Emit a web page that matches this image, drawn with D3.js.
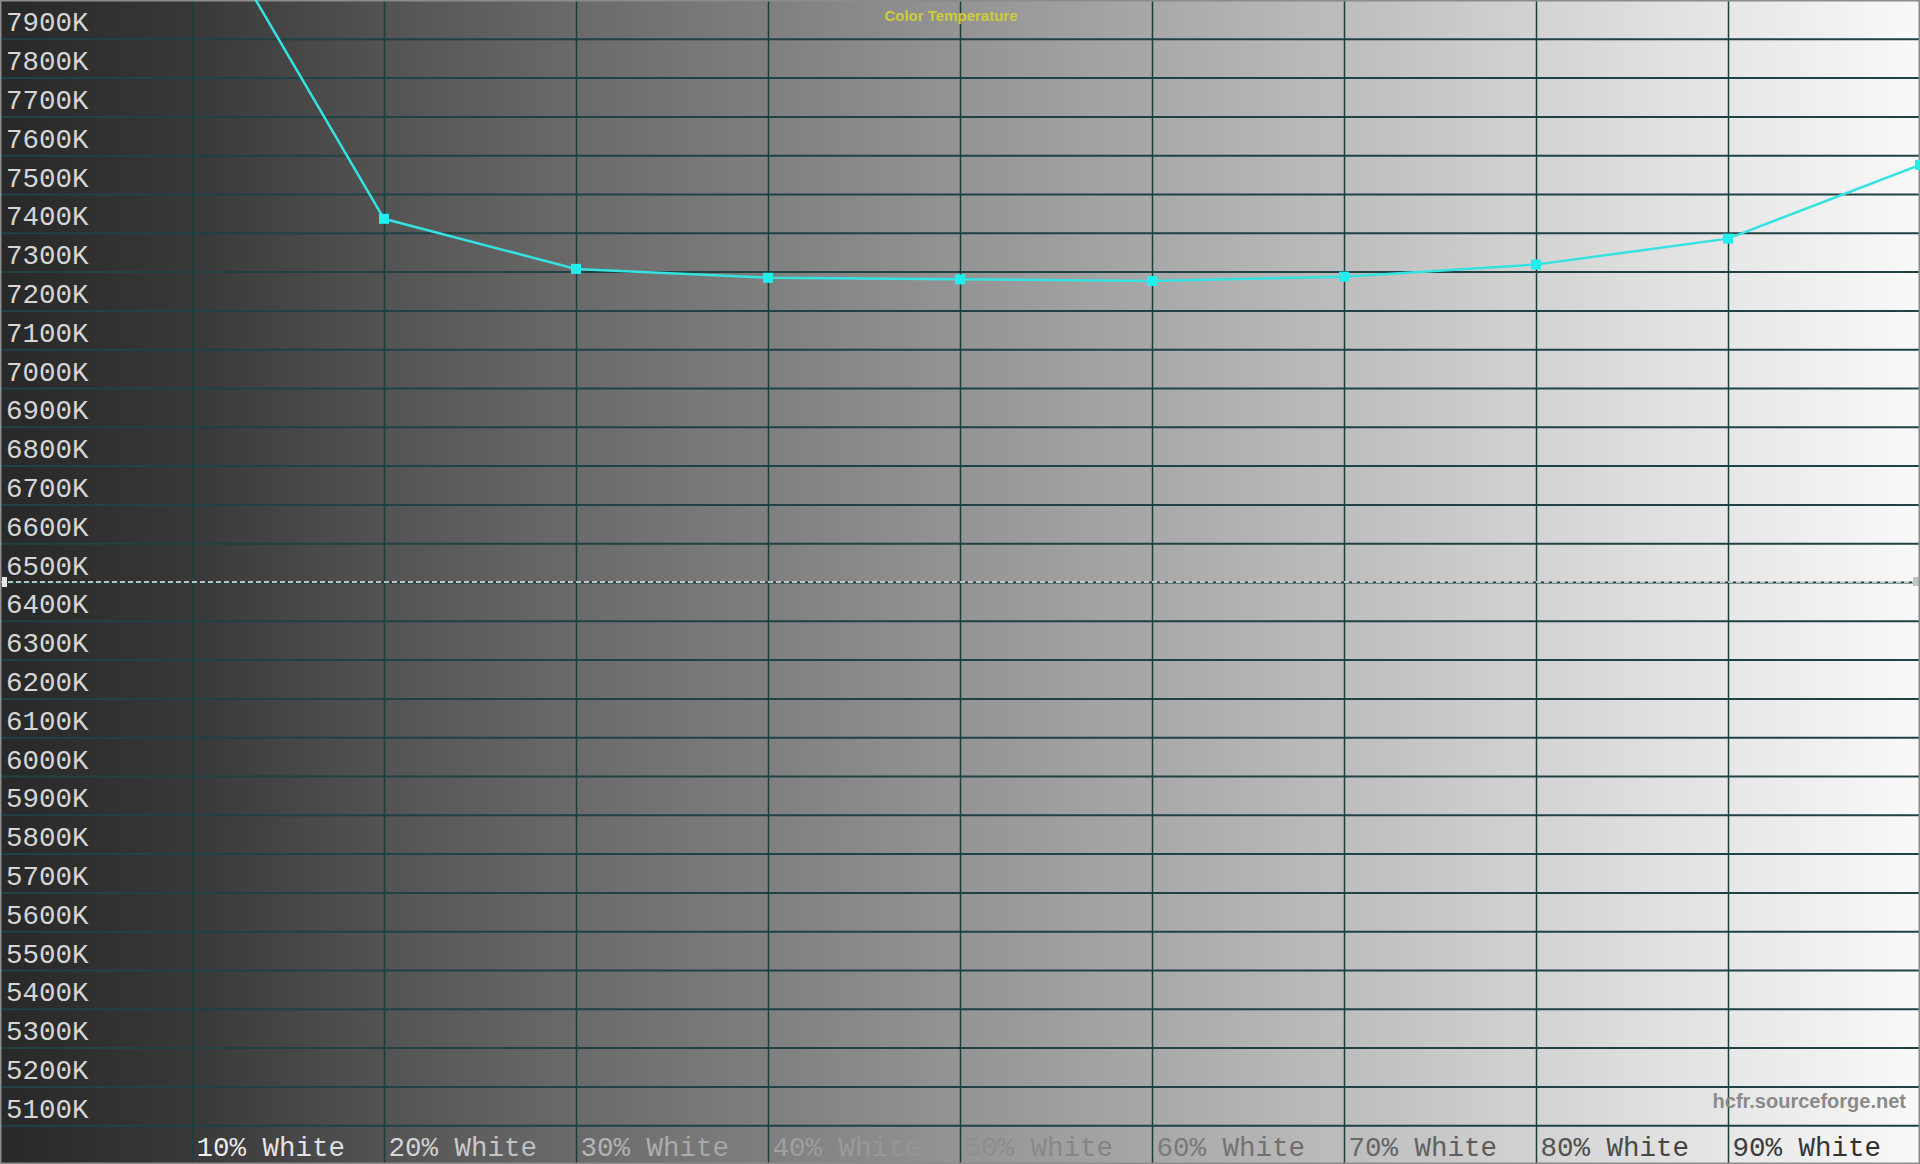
<!DOCTYPE html>
<html>
<head>
<meta charset="utf-8">
<script src="https://cdn.jsdelivr.net/npm/d3@7"></script>
<style>
  html, body { margin: 0; padding: 0; background: #2a2a2a; overflow: hidden; }
  svg { display: block; }
</style>
</head>
<body>
<svg id="chart"></svg>
<script>
'use strict';

// measured grey levels (percent of white) and colour temperature in kelvin
const levels = [10, 20, 30, 40, 50, 60, 70, 80, 90, 100];
const colorTemps = [8280, 7436, 7307, 7284, 7280, 7276, 7287, 7318, 7385, 7575];

const xTickLevels = [10, 20, 30, 40, 50, 60, 70, 80, 90];
const xLabels = ['10% White', '20% White', '30% White', '40% White', '50% White',
                 '60% White', '70% White', '80% White', '90% White'];
const yTicks = d3.range(5100, 8000, 100);
const referenceTemp = 6500;
const chartTitle = 'Color Temperature';
const watermark = 'hcfr.sourceforge.net';

const width = 1920, height = 1164;

const svg = d3.select('#chart')
    .attr('width', width)
    .attr('height', height);

const x = d3.scaleLinear().domain([0, 100]).range([0, width]);
const y = d3.scaleLinear().domain([5000, 8000]).range([height, 0]);

const defs = svg.append('defs');

// background: dark grey on the left to near white on the right
const bg = defs.append('linearGradient')
    .attr('id', 'bg')
    .attr('gradientUnits', 'userSpaceOnUse')
    .attr('x1', 0).attr('x2', width).attr('y1', 0).attr('y2', 0);
[[0, '#282828'], [0.1, '#383838'], [0.2, '#535353'], [0.3, '#6a6a6a'], [0.4, '#7f7f7f'],
 [0.5, '#949494'], [0.6, '#a8a8a8'], [0.7, '#bdbdbd'], [0.8, '#d3d3d3'], [0.9, '#e7e7e7'],
 [1, '#f9f9f9']].forEach(s => {
    bg.append('stop').attr('offset', s[0]).attr('stop-color', s[1]);
});

// x labels go from light to dark
const lab = defs.append('linearGradient')
    .attr('id', 'lab')
    .attr('gradientUnits', 'userSpaceOnUse')
    .attr('x1', 190).attr('x2', width).attr('y1', 0).attr('y2', 0);
[[0, '#f0f0f0'], [0.12, '#d6d6d6'], [0.24, '#b2b2b2'], [0.36, '#9c9c9c'], [0.48, '#8c8c8c'],
 [0.6, '#747474'], [0.72, '#606060'], [0.84, '#484848'], [1, '#2a2a2a']].forEach(s => {
    lab.append('stop').attr('offset', s[0]).attr('stop-color', s[1]);
});

svg.append('rect')
    .attr('width', width)
    .attr('height', height)
    .attr('fill', 'url(#bg)');

// horizontal grid + kelvin labels
const yAxis = svg.append('g')
    .attr('class', 'y-axis')
    .call(d3.axisRight(y)
        .tickValues(yTicks)
        .tickSize(width)
        .tickFormat(d => d + 'K'));

yAxis.select('.domain').remove();
yAxis.selectAll('.tick line')
    .attr('stroke', '#1f4242')
    .attr('stroke-width', 2);
yAxis.selectAll('.tick text')
    .attr('x', 6)
    .attr('y', -8)
    .attr('dy', null)
    .attr('text-anchor', 'start')
    .attr('fill', '#d6d6d6')
    .style('font-family', '"Courier New", "Liberation Mono", monospace')
    .style('font-size', '27.5px');

// vertical grid + level labels
const xAxis = svg.append('g')
    .attr('class', 'x-axis')
    .call(d3.axisBottom(x)
        .tickValues(xTickLevels)
        .tickSize(height)
        .tickFormat((d, i) => xLabels[i]));

xAxis.select('.domain').remove();
xAxis.selectAll('.tick line')
    .attr('stroke', '#1b3e3e')
    .attr('stroke-width', 1.5);
xAxis.selectAll('.tick text')
    .attr('x', 4)
    .attr('y', 1156)
    .attr('dy', null)
    .attr('text-anchor', 'start')
    .style('font-family', '"Courier New", "Liberation Mono", monospace')
    .style('font-size', '27.5px');

// each tick is translated, so give each label a gradient shifted back to chart space
xAxis.selectAll('.tick').each(function(d) {
    const tx = x(d);
    d3.select(this).select('text').attr('fill', null).style('fill', 'url(#lab' + d + ')');
    defs.append('linearGradient')
        .attr('id', 'lab' + d)
        .attr('href', '#lab')
        .attr('gradientUnits', 'userSpaceOnUse')
        .attr('x1', 190 - tx).attr('x2', width - tx).attr('y1', 0).attr('y2', 0);
});

// 6500K reference line
svg.append('line')
    .attr('x1', 0).attr('x2', width)
    .attr('y1', y(referenceTemp)).attr('y2', y(referenceTemp))
    .attr('stroke', '#ececec')
    .attr('stroke-width', 1.5)
    .attr('stroke-dasharray', '5,3');
svg.append('rect')
    .attr('x', 2).attr('y', y(referenceTemp) - 5)
    .attr('width', 5).attr('height', 10)
    .attr('fill', '#e8e8e8');
svg.append('rect')
    .attr('x', width - 7).attr('y', y(referenceTemp) - 5)
    .attr('width', 6).attr('height', 9)
    .attr('fill', '#c4c4c4');

// frame
svg.append('rect')
    .attr('x', 0.75).attr('y', 0.75)
    .attr('width', width - 1.5).attr('height', height - 1.5)
    .attr('fill', 'none')
    .attr('stroke', '#8c8c8c')
    .attr('stroke-width', 1.5);

// title and watermark
svg.append('text')
    .attr('x', 951).attr('y', 21)
    .attr('text-anchor', 'middle')
    .attr('fill', '#cccc3a')
    .style('font-family', '"Liberation Sans", Arial, sans-serif')
    .style('font-size', '15px')
    .style('font-weight', 'bold')
    .text(chartTitle);

svg.append('text')
    .attr('x', 1906).attr('y', 1108)
    .attr('text-anchor', 'end')
    .attr('fill', '#8a8a8a')
    .style('font-family', '"Liberation Sans", Arial, sans-serif')
    .style('font-size', '20px')
    .style('font-weight', 'bold')
    .text(watermark);

// measured colour temperature
const pts = levels.map((l, i) => ({ level: l, temp: colorTemps[i] }));

const line = d3.line()
    .x(d => x(d.level))
    .y(d => y(d.temp));

svg.append('path')
    .datum(pts)
    .attr('d', line)
    .attr('fill', 'none')
    .attr('stroke', '#35e2e2')
    .attr('stroke-width', 2.5);

svg.selectAll('.marker')
    .data(pts)
    .enter()
    .append('rect')
    .attr('class', 'marker')
    .attr('x', d => x(d.level) - 5)
    .attr('y', d => y(d.temp) - 5)
    .attr('width', 10)
    .attr('height', 10)
    .attr('fill', '#22eeee');
</script>
</body>
</html>
